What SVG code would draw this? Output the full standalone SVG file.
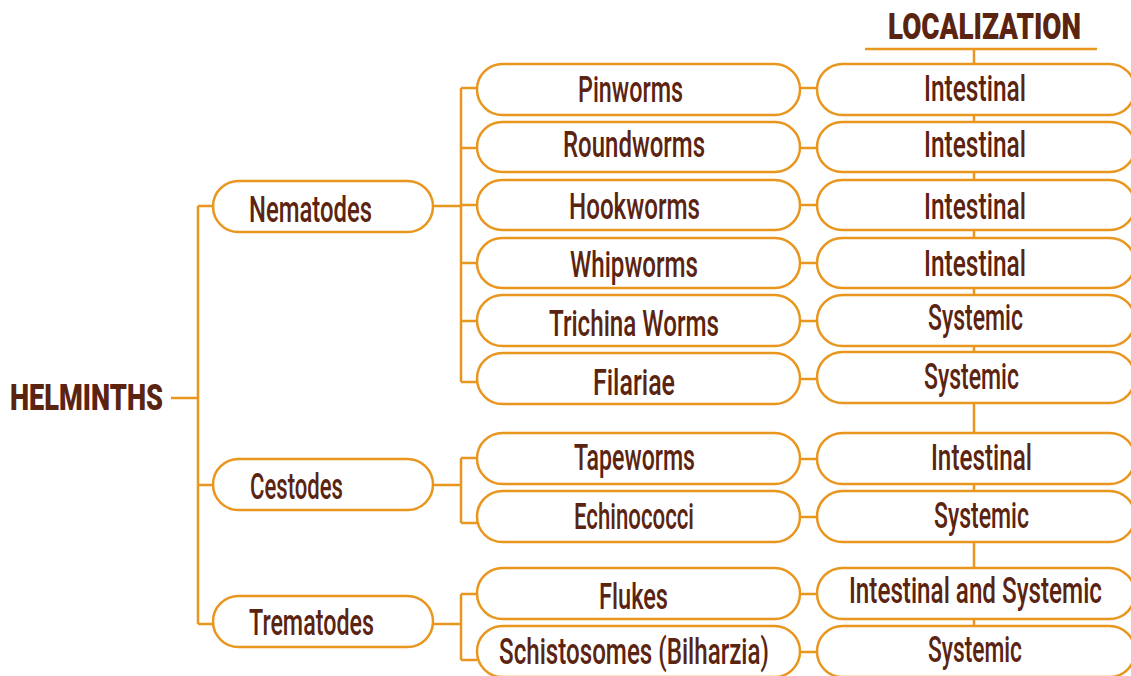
<svg xmlns="http://www.w3.org/2000/svg" width="1131" height="676" viewBox="0 0 1131 676">
<style>
.box{fill:#fff;stroke:#E8961E;stroke-width:2.5}
.ln{fill:none;stroke:#E8961E;stroke-width:2.5}
.t{font-family:Roboto,"Liberation Sans",sans-serif;font-size:36px;font-weight:500;fill:#5A2410}
.h{font-family:Roboto,"Liberation Sans",sans-serif;font-size:37px;font-weight:900;fill:#5A2410}
</style>
<rect width="1131" height="676" fill="#fff"/>
<g id="connectors">
<path class="ln" d="M171 398H198M198 206V624M198 206H213M198 485H213M198 624H213"/>
<path class="ln" d="M433 206H461M461 88V382M461 88H477M461 148H477M461 205H477M461 263H477M461 321H477M461 382H477"/>
<path class="ln" d="M433 485H461M461 458V523M461 458H477M461 523H477"/>
<path class="ln" d="M433 624H461M461 594V660M461 594H477M461 660H477"/>
<path class="ln" d="M800 88H817M800 148H817M800 205H817M800 263H817M800 321H817M800 379H817M800 459H817M800 517H817M800 594H817M800 652H817"/>
<path class="ln" d="M865 49H1097M974 49V676"/>
</g>
<g id="root"><text class="h" x="10" y="410" textLength="153" lengthAdjust="spacingAndGlyphs">HELMINTHS</text></g>
<g id="header"><text class="h" x="888" y="39" textLength="193" lengthAdjust="spacingAndGlyphs">LOCALIZATION</text></g>
<g id="nematodes"><rect class="box" x="213" y="181" width="220" height="51" rx="25.5"/><text class="t" x="249" y="222" textLength="123" lengthAdjust="spacingAndGlyphs">Nematodes</text></g>
<g id="cestodes"><rect class="box" x="213" y="459" width="220" height="51" rx="25.5"/><text class="t" x="250" y="499" textLength="93" lengthAdjust="spacingAndGlyphs">Cestodes</text></g>
<g id="trematodes"><rect class="box" x="213" y="596" width="220" height="51" rx="25.5"/><text class="t" x="249" y="635" textLength="125" lengthAdjust="spacingAndGlyphs">Trematodes</text></g>

<g id="pinworms"><rect class="box" x="477" y="64" width="323" height="51" rx="25.5"/><text class="t" x="578" y="102" textLength="105" lengthAdjust="spacingAndGlyphs">Pinworms</text></g>
<g id="roundworms"><rect class="box" x="477" y="122" width="323" height="50" rx="25"/><text class="t" x="563" y="157" textLength="142" lengthAdjust="spacingAndGlyphs">Roundworms</text></g>
<g id="hookworms"><rect class="box" x="477" y="180" width="323" height="50" rx="25"/><text class="t" x="569" y="219" textLength="131" lengthAdjust="spacingAndGlyphs">Hookworms</text></g>
<g id="whipworms"><rect class="box" x="477" y="238" width="323" height="50" rx="25"/><text class="t" x="570" y="277" textLength="128" lengthAdjust="spacingAndGlyphs">Whipworms</text></g>
<g id="trichina"><rect class="box" x="477" y="295" width="323" height="51" rx="25.5"/><text class="t" x="549" y="336" textLength="170" lengthAdjust="spacingAndGlyphs">Trichina Worms</text></g>
<g id="filariae"><rect class="box" x="477" y="353" width="323" height="51" rx="25.5"/><text class="t" x="593" y="395" textLength="82" lengthAdjust="spacingAndGlyphs">Filariae</text></g>
<g id="tapeworms"><rect class="box" x="477" y="433" width="323" height="51" rx="25.5"/><text class="t" x="574" y="470" textLength="121" lengthAdjust="spacingAndGlyphs">Tapeworms</text></g>
<g id="echinococci"><rect class="box" x="477" y="491" width="323" height="51" rx="25.5"/><text class="t" x="574" y="529" textLength="120" lengthAdjust="spacingAndGlyphs">Echinococci</text></g>
<g id="flukes"><rect class="box" x="477" y="568" width="323" height="51" rx="25.5"/><text class="t" x="599" y="609" textLength="69" lengthAdjust="spacingAndGlyphs">Flukes</text></g>
<g id="schistosomes"><rect class="box" x="477" y="626" width="323" height="51" rx="25.5"/><text class="t" x="499" y="664" textLength="270" lengthAdjust="spacingAndGlyphs">Schistosomes (Bilharzia)</text></g>

<g id="loc1"><rect class="box" x="817" y="64" width="318" height="51" rx="25.5"/><text class="t" x="924" y="101" textLength="102" lengthAdjust="spacingAndGlyphs">Intestinal</text></g>
<g id="loc2"><rect class="box" x="817" y="122" width="318" height="50" rx="25"/><text class="t" x="924" y="157" textLength="102" lengthAdjust="spacingAndGlyphs">Intestinal</text></g>
<g id="loc3"><rect class="box" x="817" y="180" width="318" height="50" rx="25"/><text class="t" x="924" y="219" textLength="102" lengthAdjust="spacingAndGlyphs">Intestinal</text></g>
<g id="loc4"><rect class="box" x="817" y="238" width="318" height="50" rx="25"/><text class="t" x="924" y="276" textLength="102" lengthAdjust="spacingAndGlyphs">Intestinal</text></g>
<g id="loc5"><rect class="box" x="817" y="295" width="318" height="51" rx="25.5"/><text class="t" x="928" y="330" textLength="95" lengthAdjust="spacingAndGlyphs">Systemic</text></g>
<g id="loc6"><rect class="box" x="817" y="352" width="318" height="51" rx="25.5"/><text class="t" x="924" y="389" textLength="95" lengthAdjust="spacingAndGlyphs">Systemic</text></g>
<g id="loc7"><rect class="box" x="817" y="433" width="318" height="51" rx="25.5"/><text class="t" x="931" y="470" textLength="101" lengthAdjust="spacingAndGlyphs">Intestinal</text></g>
<g id="loc8"><rect class="box" x="817" y="491" width="318" height="51" rx="25.5"/><text class="t" x="934" y="528" textLength="95" lengthAdjust="spacingAndGlyphs">Systemic</text></g>
<g id="loc9"><rect class="box" x="817" y="568" width="318" height="51" rx="25.5"/><text class="t" x="849" y="603" textLength="253" lengthAdjust="spacingAndGlyphs">Intestinal and Systemic</text></g>
<g id="loc10"><rect class="box" x="817" y="626" width="318" height="51" rx="25.5"/><text class="t" x="928" y="662" textLength="94" lengthAdjust="spacingAndGlyphs">Systemic</text></g>
</svg>
